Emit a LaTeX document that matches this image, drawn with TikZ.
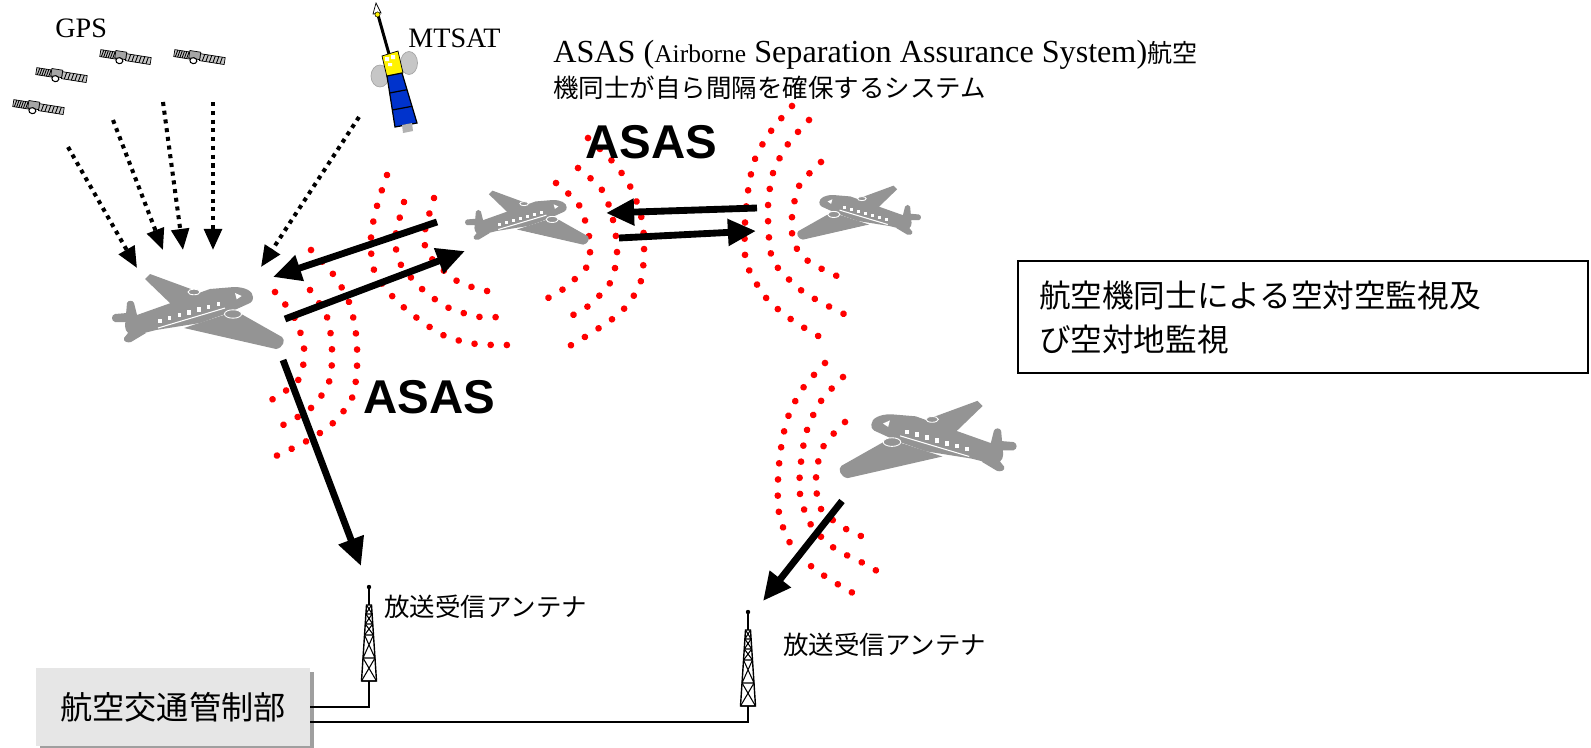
\documentclass[tikz,border=0pt]{standalone}
\usepackage{fontspec}
\setmainfont{Liberation Serif}
\newfontfamily\jpfont{Noto Sans CJK JP}
\newfontfamily\asasfont{Liberation Sans}
\usetikzlibrary{arrows.meta, shadows}

\definecolor{planegray}{RGB}{148,148,148}
\definecolor{panelblue}{RGB}{0,51,204}
\definecolor{boxgray}{RGB}{230,230,230}

\tikzset{
  wave/.style={red, line width=3.8pt, line cap=round, dash pattern=on 0.01pt off 9.2pt},
  link/.style={-{Triangle[length=16pt, width=14.5pt]}, line width=3.9pt},
  gpsray/.style={-{Triangle[length=12pt, width=10pt]}, line width=2.3pt, dash pattern=on 2.3pt off 2.7pt},
  wire/.style={line width=1.1pt},
  lbl/.style={inner sep=0pt, font=\fontsize{16pt}{19pt}\selectfont},
  deflbl/.style={inner sep=0pt, font=\fontsize{18.3pt}{21pt}\selectfont},
  jplbl/.style={inner sep=0pt, font=\jpfont\fontsize{14.5pt}{17pt}\selectfont},
  asaslbl/.style={inner sep=0pt, font=\asasfont\bfseries\fontsize{27pt}{30pt}\selectfont},
  atcbox/.style={fill=boxgray, minimum width=5.48cm, minimum height=1.56cm,
    drop shadow={shadow xshift=2.5pt, shadow yshift=-2pt, fill=gray!75, opacity=1},
    font=\jpfont\fontsize{18.3pt}{21pt}\selectfont},
  survbox/.style={draw, line width=1pt, text width=10.56cm, inner xsep=0.42cm,
    minimum height=2.24cm, align=left, font=\jpfont\fontsize{18pt}{25pt}\selectfont},
  % small navigation satellite: two striped panels and a body
  gpssat/.pic={
    \foreach \a/\b in {-25/-9, 1/26} {
      \filldraw[fill=gray!45, line width=0.4pt] (\a,-3.5) rectangle (\b,3.5);
      \foreach \s in {1,...,6}
        \draw[line width=0.5pt] ({\a+(\b-\a)*\s/7+0.7},-3.5) -- ++(-1.4,7);
    }
    \filldraw[fill=gray!70, line width=0.4pt] (-10,-5) rectangle (1,2.5);
    \filldraw[fill=white, line width=0.6pt] (-5,4.5) ellipse [x radius=3.5, y radius=3];
  },
  % lattice mast of a receiving antenna, origin at the top
  antenna/.pic={
    \fill (0,0) circle [radius=2.2];
    \draw[line width=0.8pt] (0,0) -- (0,18);
    \draw[line width=0.8pt] (-2.5,18) -- (2.5,18) -- (7.5,94) -- (-7.5,94) -- cycle;
    \foreach \ya/\yb in {18/27, 27/37, 37/48, 48/71, 71/94}
      \draw[line width=0.6pt] ({-2.5-5*(\ya-18)/76},\ya) -- ({2.5+5*(\yb-18)/76},\yb)
        ({2.5+5*(\ya-18)/76},\ya) -- ({-2.5-5*(\yb-18)/76},\yb)
        ({-2.5-5*(\yb-18)/76},\yb) -- ({2.5+5*(\yb-18)/76},\yb);
  },
  % twin engine aircraft, nose to the right
  airplane/.pic={
    \fill[planegray] (-48,-38) -- (1,-20) -- (-25,-6) -- (-53,-33) -- cycle;
    \fill[planegray] (55,-15) .. controls (55,-21) and (47,-25) .. (36,-25)
      -- (12,-23) -- (-30,-8) -- (-61,3)
      -- (-64,-9) .. controls (-65,-12) and (-70,-12) .. (-71,-9)
      -- (-73,14) .. controls (-73,20) and (-68,24) .. (-62,23)
      -- (-42,18) -- (2,11) -- (30,1) -- (52,-9) .. controls (55,-11) and (55,-13) .. cycle;
    \fill[planegray] (-71,1) -- (-83,2) .. controls (-87,3) and (-87,9) .. (-83,10) -- (-71,10) -- cycle;
    \fill[planegray] (-66,16) -- (-74,26) .. controls (-75,30) and (-70,31) .. (-67,30) -- (-52,21) -- cycle;
    \fill[planegray] (38,-1) -- (84,25) .. controls (88,28) and (85,36) .. (78,37) -- (-14,16) -- cycle;
    \draw[white, line width=0.5pt] (-10,18) -- (76,38.5);
    \filldraw[fill=planegray, draw=white, line width=0.5pt] (35,2) ellipse [x radius=8.5, y radius=4.2];
    \filldraw[fill=planegray, draw=white, line width=0.5pt] (-4,-20) ellipse [x radius=6, y radius=2.8];
    \fill[white] (37,-19) -- (43.7,-16) -- (38.7,-12.7) -- cycle;
    \foreach \i in {0,...,6}
      \fill[white] ({-39.7+9.7*\i},{6.6-2.8*\i}) rectangle +(3.4,4.4);
    \draw[white, line width=0.6pt] (-40,16) -- (27,-4);
  }
}

\begin{document}
\begin{tikzpicture}[x=0.02cm, y=-0.02cm]
\useasboundingbox (0,0) rectangle (1591,747);
\fill[white] (0,0) rectangle (1591,747);

% radio waves round the aircraft
\draw[wave] plot[smooth] coordinates {(275,292) (294,317) (304,348) (299,379) (273,399) (259,406)};
\draw[wave] plot[smooth] coordinates {(310,290) (327,317) (332,350) (329,382) (311,408) (283,425)};
\draw[wave] plot[smooth] coordinates {(311,250) (333,274) (349,302) (356,334) (357,367) (352,398) (332,424) (305,442) (276,456)};
\draw[wave] plot[smooth] coordinates {(387,175) (377,206) (371,237) (374,270) (393,297) (417,318) (445,336) (476,344) (508,345)};
\draw[wave] plot[smooth] coordinates {(404,202) (396,233) (396,249) (401,265) (422,289) (449,308) (480,317) (497,317)};
\draw[wave] plot[smooth] coordinates {(434,198) (425,230) (425,246) (432,259) (457,281) (487,291) (503,290)};
\draw[wave] plot[smooth] coordinates {(556,183) (579,205) (589,236) (590,253) (586,268) (562,290) (548,298)};
\draw[wave] plot[smooth] coordinates {(578,168) (602,190) (613,220) (617,253) (610,283) (587,307) (573,315)};
\draw[wave] plot[smooth] coordinates {(588,138) (613,162) (631,188) (642,220) (644,252) (640,284) (622,311) (596,330) (568,347)};
\draw[wave] plot[smooth] coordinates {(821,162) (799,186) (792,217) (792,233) (797,249) (808,261) (822,269) (837,276)};
\draw[wave] plot[smooth] coordinates {(809,120) (788,144) (773,173) (768,206) (769,238) (771,254) (778,268) (802,291) (830,307) (844,314)};
\draw[wave] plot[smooth] coordinates {(792,106) (771,131) (755,159) (748,191) (745,223) (745,255) (750,272) (767,299) (792,320) (820,337)};
\draw[wave] plot[smooth] coordinates {(825,363) (803,388) (788,417) (781,448) (778,480) (779,513) (790,543) (812,567) (839,585) (853,593)};
\draw[wave] plot[smooth] coordinates {(843,377) (821,401) (807,430) (801,462) (800,494) (811,525) (834,548) (863,563) (877,571)};
\draw[wave] plot[smooth] coordinates {(845,422) (823,447) (816,478) (821,509) (846,529) (861,536)};

% GPS constellation
\foreach \sx/\sy in {125/57, 199/57, 61/75, 38/107}
  \pic[rotate=-9] at (\sx,\sy) {gpssat};

% MTSAT
\filldraw[fill=gray!45, draw=gray!70] (380,76) ellipse [x radius=9, y radius=11];
\filldraw[fill=gray!45, draw=gray!70] (409,63) ellipse [x radius=8.5, y radius=11.5];
\draw[line width=1.7pt] (378,15) -- (389,54);
\filldraw[fill=white, line width=0.4pt] (376,3) -- (381,13) -- (373,14) -- cycle;
\filldraw[fill=yellow, line width=0.3pt] (377.5,14.5) circle [radius=2.6];
\filldraw[fill=yellow, line width=0.4pt] (382,56) -- (398,51) -- (403,73) -- (387,77) -- cycle;
\fill[white] (385,57) rectangle (389,61) (391,55) rectangle (395,59) (388,63) rectangle (392,66);
\filldraw[fill=panelblue, line width=0.7pt] (387,76) -- (402,73) -- (417,123) -- (395,127) -- cycle;
\draw[line width=0.7pt] (389.7,93) -- (407,89.7) (392.3,110) -- (412,106.3);
\fill[gray!60] (402,125) -- (412,123) -- (413,131) -- (403,133) -- cycle;

% aircraft
\pic at (198,312) {airplane};
\pic[scale=0.72] at (527,218) {airplane};
\pic[xscale=-0.72, yscale=0.72] at (859,213) {airplane};
\pic[xscale=-1.03, yscale=1.03] at (928,440) {airplane};

% ground side
\pic at (369,587) {antenna};
\pic at (748,612) {antenna};
\coordinate (ant1foot) at (369,681);
\coordinate (ant2foot) at (748,706);
\node[atcbox] (atc) at (173,707) {航空交通管制部};
\node[survbox] (surv) at (1303,317) {航空機同士による空対空監視及\\び空対地監視};
\draw[wire] (ant1foot) |- (atc.east);
\draw[wire] (ant2foot) |- ([yshift=-8.5pt]atc.east);

% satellite signals
\foreach \i/\sx/\sy/\ex/\ey in {1/68/147/137/268, 2/113/120/163/250, 3/163/102/183/250,
    4/213/102/213/250, 5/359/117/261/267} {
  \coordinate (sig\i) at (\sx,\sy);
  \coordinate (rx\i) at (\ex,\ey);
  \draw[gpsray] (sig\i) -- (rx\i);
}

% ASAS links
\coordinate (ab0) at (437,222); \coordinate (ab1) at (273,277);
\coordinate (ba0) at (285,319); \coordinate (ba1) at (465,251);
\coordinate (cb0) at (757,208); \coordinate (cb1) at (606,213);
\coordinate (bc0) at (619,238); \coordinate (bc1) at (756,231);
\coordinate (dn0) at (283,360); \coordinate (dn1) at (361,566);
\coordinate (dd0) at (842,501); \coordinate (dd1) at (763,601);
\draw[link] (ab0) -- (ab1);
\draw[link] (ba0) -- (ba1);
\draw[link] (cb0) -- (cb1);
\draw[link] (bc0) -- (bc1);
\draw[link] (dn0) -- (dn1);
\draw[link] (dd0) -- (dd1);

% labels
\node[lbl, anchor=base west] (gpslbl) at (55,37) {GPS};
\node[lbl, anchor=base west] (mtsatlbl) at (408,47) {MTSAT};
\node[deflbl, anchor=base west] (asasdef) at (553,62) {ASAS ({\fontsize{14.5pt}{17pt}\selectfont Airborne} Separation Assurance System){\jpfont\fontsize{14.3pt}{17pt}\selectfont 航空}};
\node[jplbl, anchor=base west] (asasnote) at (553,97) {機同士が自ら間隔を確保するシステム};
\node[asaslbl, anchor=base west] (asasup) at (585,158) {ASAS};
\node[asaslbl, anchor=base west] (asaslow) at (363,413) {ASAS};
\node[jplbl, anchor=base west] (ant1lbl) at (384,616) {放送受信アンテナ};
\node[jplbl, anchor=base west] (ant2lbl) at (783,654) {放送受信アンテナ};
\end{tikzpicture}
\end{document}
